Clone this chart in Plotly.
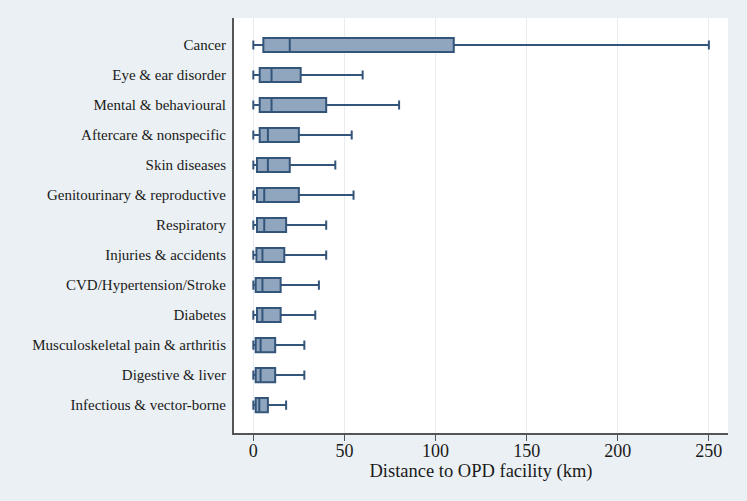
import plotly.graph_objects as go

categories = ["Infectious & vector-borne", "Digestive & liver", "Musculoskeletal pain & arthritis",
              "Diabetes", "CVD/Hypertension/Stroke", "Injuries & accidents", "Respiratory",
              "Genitourinary & reproductive", "Skin diseases", "Aftercare & nonspecific",
              "Mental & behavioural", "Eye & ear disorder", "Cancer"]
lower = [0, 0, 0, 0, 0, 0, 0, 0, 0, 0, 0, 0, 0]
q1 = [1.3, 1.3, 1.3, 2, 1.3, 1.7, 2, 2, 2, 3.5, 3.5, 3.5, 5.5]
median = [3.3, 4, 4, 5, 5, 5, 6, 6, 8, 8, 10, 10, 20]
q3 = [8, 12, 12, 15, 15, 17, 18, 25, 20, 25, 40, 26, 110]
upper = [18, 28, 28, 34, 36, 40, 40, 55, 45, 54, 80, 60, 250]
xticks = [0, 50, 100, 150, 200, 250]

fig = go.Figure()
fig.add_trace(go.Box(
    orientation="h",
    y=categories,
    lowerfence=lower, q1=q1, median=median, q3=q3, upperfence=upper,
    fillcolor="#8FA6BE",
    line=dict(color="#34557A", width=2),
    width=0.47,
    whiskerwidth=0.65,
    boxpoints=False,
    hoverinfo="skip",
    showlegend=False,
))

font = "Liberation Serif"
fig.update_layout(
    width=747, height=501,
    paper_bgcolor="#EAF0F3",
    plot_bgcolor="#FFFFFF",
    margin=dict(l=234, r=19, t=18, b=68),
    font=dict(family=font, color="#1a1a1a"),
    xaxis=dict(
        range=[-10.6, 260.5],
        tickvals=xticks,
        ticktext=[str(v) for v in xticks],
        tickfont=dict(size=18),
        showgrid=True, gridcolor="#E6ECF0", gridwidth=1,
        zeroline=False,
        showline=True, linecolor="#555555", linewidth=1.5,
        ticks="outside", ticklen=6, tickcolor="#555555",
        ticklabelstandoff=-5,
        title=dict(text="Distance to OPD facility (km)", font=dict(size=18.5), standoff=0),
    ),
    yaxis=dict(
        type="category",
        categoryorder="array", categoryarray=categories,
        range=[-0.93, 12.9],
        tickfont=dict(size=15),
        showgrid=False, zeroline=False,
        showline=True, linecolor="#555555", linewidth=2,
        ticks="", ticklabelstandoff=3,
    ),
)

fig.write_html("out.html")
